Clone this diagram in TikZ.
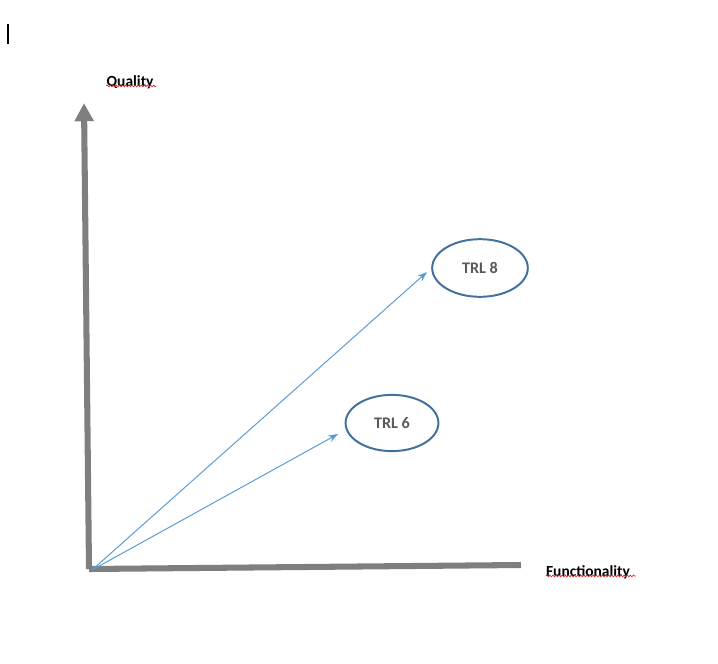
\documentclass[tikz,border=0pt]{standalone}
\usepackage{fontspec}
\setmainfont{Carlito}
\usetikzlibrary{arrows.meta,shapes.geometric,decorations.pathmorphing}
\definecolor{axisgray}{RGB}{127,127,127}
\definecolor{vecblue}{RGB}{91,155,213}
\definecolor{ringblue}{RGB}{65,113,156}
\definecolor{trltext}{RGB}{89,89,89}
\definecolor{spellred}{RGB}{220,40,40}

\begin{document}
\begin{tikzpicture}[
  x=0.025cm, y=-0.025cm,
  axis/.style={draw=axisgray, line width=4.3pt},
  vec/.style={-{Stealth[length=7pt,width=5pt]}, draw=vecblue, line width=0.7pt},
  trl/.style={ellipse, draw=ringblue, line width=1.4pt, fill=white,
              minimum width=68pt, minimum height=41pt, inner sep=0pt,
              font=\fontsize{11.5}{13}\selectfont\bfseries, text=trltext},
  lbl/.style={font=\fontsize{11}{13}\selectfont\bfseries, inner sep=0pt},
  spell/.style={draw=spellred, line width=0.5pt,
                decorate, decoration={snake, amplitude=0.6pt, segment length=2.2pt}},
]
\useasboundingbox (0,0) rectangle (718,664);

% ---- cursor ----
\draw[black, line width=0.8pt] (8,24) -- (8,44);

% ---- Axes ----
\coordinate (origin) at (89,569);
\coordinate (ytop) at (84,103);
\coordinate (xend) at (521,565);
\draw[axis, -{Triangle[length=13pt,width=13pt]}] (origin) -- (ytop);
\draw[axis] (origin) -- (xend);

\node[lbl] (quality) at (130,82) {Quality};
\node[lbl] (functionality) at (588,572) {Functionality};
\draw[spell] (quality.south west) ++(0,-3) -- ++(50,0);
\draw[spell] (functionality.south west) ++(0,-3) -- ++(90,0);

% ---- TRL levels ----
\node[trl] (trl8) at (480,268) {TRL 8};
\node[trl, minimum width=66pt, minimum height=40pt] (trl6) at (392,423) {TRL 6};

% ---- Vectors ----
\coordinate (tail) at (92,570);
\coordinate (tip8) at (427,272);
\coordinate (tip6) at (338,434);
\draw[vec] (tail) -- (tip8);
\draw[vec] (tail) -- (tip6);

\end{tikzpicture}
\end{document}
